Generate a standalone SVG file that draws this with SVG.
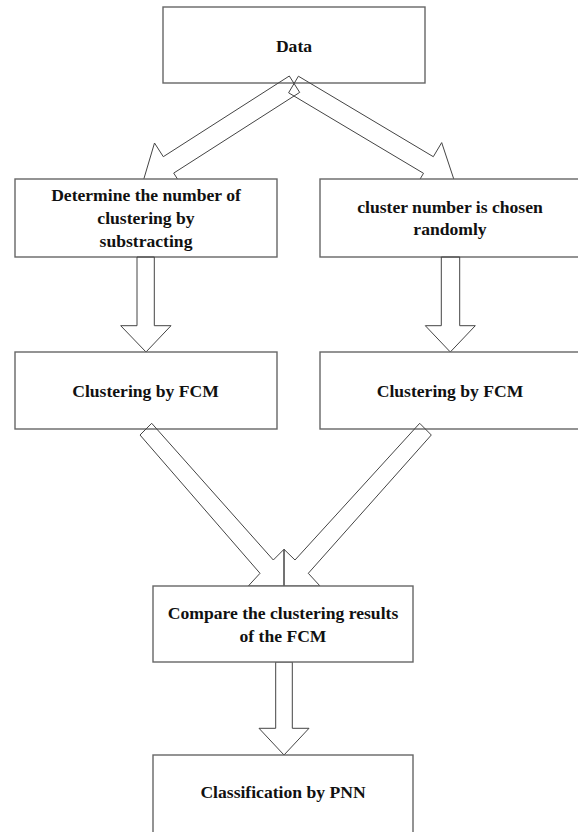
<svg xmlns="http://www.w3.org/2000/svg" width="578" height="832" viewBox="0 0 578 832">
<style>
.box{fill:#fff;stroke:#666;stroke-width:1.4}
.arr{fill:none;stroke:#444;stroke-width:1}
.t{font-family:"Liberation Serif","Times New Roman",serif;font-weight:bold;font-size:17.6px;fill:#111;text-anchor:middle}
</style>
<rect width="578" height="832" fill="#fff"/>
<g id="data"><rect class="box" x="163" y="7" width="262" height="76"/><text class="t" x="294" y="51.5">Data</text></g>
<g id="connectors-top">
<polygon class="arr" points="289.3,76 163.3,156.7 154.5,143 143.2,181.1 182.5,186.8 173.7,173.1 299.7,92.4"/>
<polygon class="arr" points="298.4,76.2 433.3,156.7 441.7,142.6 454.2,180.3 415.1,187.4 423.5,173.3 288.6,92.8"/>
</g>
<g id="determine"><rect class="box" x="15" y="179" width="262" height="78"/>
<text class="t" x="146" y="200.7">Determine the number of</text>
<text class="t" x="146" y="224">clustering by</text>
<text class="t" x="146" y="247.3">substracting</text></g>
<g id="random"><rect class="box" x="320" y="179" width="270" height="78"/>
<text class="t" x="450" y="212.7">cluster number is chosen</text>
<text class="t" x="450" y="235">randomly</text></g>
<g id="connectors-mid">
<polygon class="arr" points="137,257 154.3,257 154.3,325.7 171,325.7 146,352 120.7,325.7 137,325.7"/>
<polygon class="arr" points="441.3,257 459.7,257 459.7,325.7 475.3,325.7 450.3,352 425.3,325.7 441.3,325.7"/>
</g>
<g id="fcm-left"><rect class="box" x="15" y="352" width="262" height="77"/>
<text class="t" x="145.5" y="396.7">Clustering by FCM</text></g>
<g id="fcm-right"><rect class="box" x="320" y="352" width="270" height="77"/>
<text class="t" x="450" y="396.7">Clustering by FCM</text></g>
<g id="connectors-bottom">
<polygon class="arr" points="151.7,423.3 273.3,560 284,549.3 284,586 248.3,586 260,573.3 140,435"/>
<polygon class="arr" points="419.7,423.3 295,560 284,549.3 284,586 320,586 308.3,573.3 431.3,435"/>
<polygon class="arr" points="275.7,662 292.3,662 292.3,728.3 309,728.3 284,755 259,728.3 275.7,728.3"/>
</g>
<g id="compare"><rect class="box" x="153" y="586" width="260" height="76"/>
<text class="t" x="283" y="619.3">Compare the clustering results</text>
<text class="t" x="283" y="641.7">of the FCM</text></g>
<g id="classification"><rect class="box" x="153" y="755" width="260" height="80"/>
<text class="t" x="283" y="798">Classification by PNN</text></g>
</svg>
